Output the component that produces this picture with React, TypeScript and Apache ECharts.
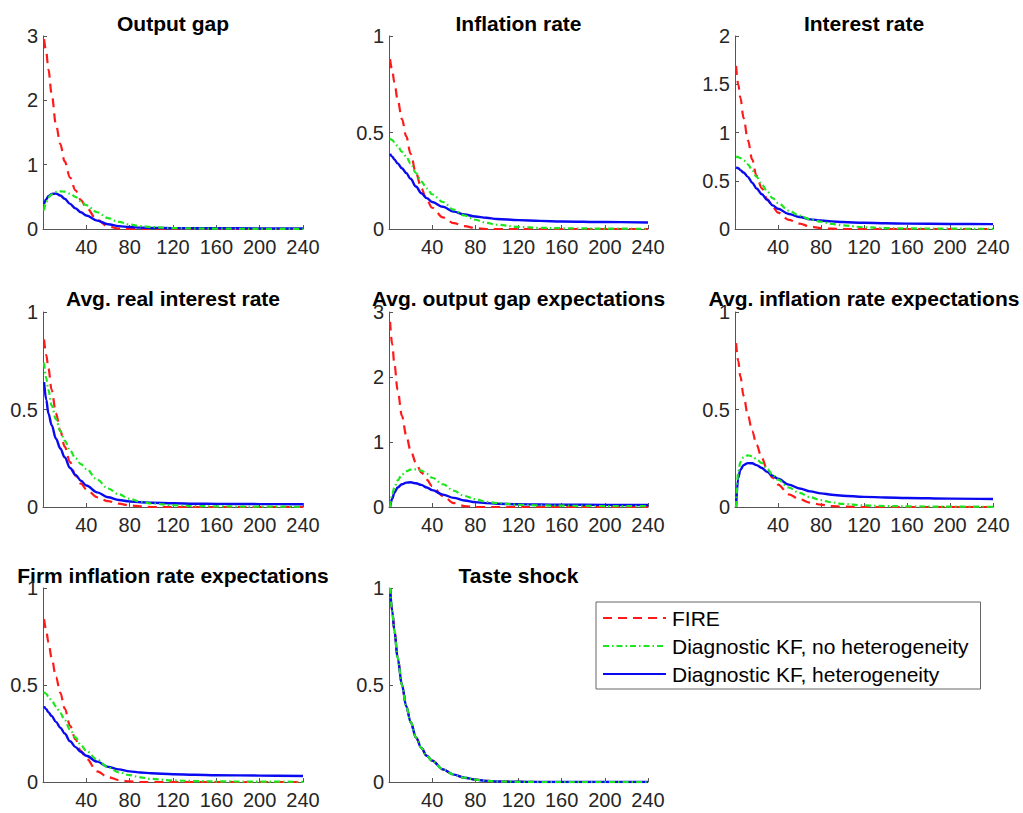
import React, { useEffect, useRef } from "react";
import * as echarts from "echarts";

const T = [1, 3, 5, 8, 12, 16, 20, 25, 30, 35, 40, 50, 60, 70, 80, 90, 100, 120, 140, 160, 200, 240];

const TITLES = [
  "Output gap",
  "Inflation rate",
  "Interest rate",
  "Avg. real interest rate",
  "Avg. output gap expectations",
  "Avg. inflation rate expectations",
  "Firm inflation rate expectations",
  "Taste shock",
];
const Y_MAX = [3, 1, 2, 1, 3, 1, 1, 1];
const Y_STEP = [1, 0.5, 0.5, 0.5, 1, 0.5, 0.5, 0.5];
const X_TICKS = [0, 40, 80, 120, 160, 200, 240];

const SERIES_NAMES = ["FIRE", "Diagnostic KF, no heterogeneity", "Diagnostic KF, heterogeneity"];

// FIRE
const fireOutputGap = [2.95, 2.75, 2.48, 2.1, 1.62, 1.32, 1.05, 0.8, 0.6, 0.45, 0.33, 0.14, 0.04, 0.005, 0, 0, 0, 0, 0, 0, 0, 0];
const fireInflation = [0.88, 0.82, 0.76, 0.67, 0.57, 0.48, 0.39, 0.29, 0.21, 0.15, 0.11, 0.06, 0.03, 0.015, 0.005, 0, 0, 0, 0, 0, 0, 0];
const fireInterest = [1.69, 1.5, 1.36, 1.15, 0.92, 0.72, 0.55, 0.42, 0.31, 0.23, 0.17, 0.095, 0.055, 0.025, 0.01, 0.003, 0, 0, 0, 0, 0, 0];
const fireRealRate = [0.86, 0.78, 0.71, 0.6, 0.48, 0.39, 0.31, 0.23, 0.16, 0.12, 0.09, 0.05, 0.03, 0.017, 0.008, 0.003, 0, 0, 0, 0, 0, 0];
const fireGapExp = [2.85, 2.5, 2.2, 1.8, 1.4, 1.1, 0.87, 0.68, 0.53, 0.42, 0.32, 0.17, 0.06, 0.015, 0, 0, 0, 0, 0, 0, 0, 0];
const fireInflExp = [0.84, 0.75, 0.67, 0.57, 0.47, 0.39, 0.32, 0.25, 0.19, 0.15, 0.115, 0.065, 0.04, 0.022, 0.012, 0.005, 0.002, 0, 0, 0, 0, 0];
const fireFirmExp = [0.84, 0.78, 0.72, 0.64, 0.54, 0.46, 0.38, 0.29, 0.22, 0.16, 0.12, 0.055, 0.025, 0.01, 0.003, 0, 0, 0, 0, 0, 0, 0];
const fireTaste = [1.0, 0.88, 0.78, 0.64, 0.5, 0.39, 0.31, 0.23, 0.175, 0.135, 0.11, 0.065, 0.038, 0.022, 0.012, 0.006, 0.003, 0.001, 0, 0, 0, 0];

// Diagnostic KF, no heterogeneity
const noHetOutputGap = [0.29, 0.42, 0.49, 0.54, 0.575, 0.585, 0.58, 0.55, 0.5, 0.43, 0.37, 0.26, 0.17, 0.11, 0.07, 0.045, 0.03, 0.015, 0.008, 0.005, 0.003, 0.002];
const noHetInflation = [0.47, 0.46, 0.45, 0.43, 0.4, 0.375, 0.34, 0.29, 0.245, 0.21, 0.18, 0.14, 0.1, 0.07, 0.048, 0.032, 0.022, 0.011, 0.006, 0.004, 0.002, 0.001];
const noHetInterest = [0.75, 0.745, 0.735, 0.71, 0.67, 0.61, 0.54, 0.46, 0.39, 0.32, 0.27, 0.19, 0.14, 0.1, 0.075, 0.053, 0.038, 0.018, 0.01, 0.006, 0.003, 0.002];
const noHetRealRate = [0.74, 0.66, 0.6, 0.52, 0.45, 0.39, 0.34, 0.29, 0.25, 0.22, 0.195, 0.14, 0.095, 0.065, 0.042, 0.027, 0.018, 0.009, 0.005, 0.003, 0.002, 0.001];
const noHetGapExp = [0.0, 0.2, 0.3, 0.41, 0.5, 0.55, 0.575, 0.58, 0.56, 0.51, 0.45, 0.35, 0.25, 0.17, 0.12, 0.08, 0.06, 0.035, 0.025, 0.02, 0.015, 0.012];
const noHetInflExp = [0.0, 0.18, 0.23, 0.255, 0.265, 0.26, 0.245, 0.225, 0.195, 0.165, 0.14, 0.1, 0.072, 0.05, 0.035, 0.024, 0.016, 0.008, 0.005, 0.003, 0.002, 0.001];
const noHetFirmExp = [0.465, 0.455, 0.44, 0.42, 0.39, 0.355, 0.32, 0.27, 0.23, 0.19, 0.16, 0.115, 0.075, 0.05, 0.035, 0.024, 0.016, 0.008, 0.005, 0.003, 0.002, 0.001];
const noHetTaste = [1.0, 0.88, 0.78, 0.64, 0.5, 0.39, 0.31, 0.23, 0.175, 0.135, 0.11, 0.065, 0.038, 0.022, 0.012, 0.006, 0.003, 0.001, 0, 0, 0, 0];

// Diagnostic KF, heterogeneity
const hetOutputGap = [0.39, 0.46, 0.51, 0.545, 0.55, 0.52, 0.47, 0.39, 0.32, 0.26, 0.21, 0.13, 0.075, 0.045, 0.03, 0.022, 0.018, 0.014, 0.012, 0.011, 0.01, 0.009];
const hetInflation = [0.39, 0.375, 0.36, 0.34, 0.315, 0.29, 0.26, 0.22, 0.185, 0.16, 0.14, 0.115, 0.09, 0.075, 0.065, 0.058, 0.052, 0.046, 0.042, 0.039, 0.036, 0.034];
const hetInterest = [0.64, 0.63, 0.61, 0.585, 0.54, 0.48, 0.42, 0.36, 0.3, 0.245, 0.21, 0.155, 0.125, 0.1, 0.088, 0.079, 0.072, 0.064, 0.059, 0.056, 0.052, 0.05];
const hetRealRate = [0.64, 0.55, 0.48, 0.42, 0.35, 0.3, 0.255, 0.2, 0.165, 0.135, 0.11, 0.075, 0.05, 0.036, 0.028, 0.024, 0.022, 0.019, 0.017, 0.016, 0.015, 0.014];
const hetGapExp = [0.0, 0.13, 0.22, 0.3, 0.35, 0.375, 0.38, 0.365, 0.34, 0.3, 0.26, 0.19, 0.14, 0.1, 0.075, 0.06, 0.05, 0.042, 0.038, 0.035, 0.032, 0.03];
const hetInflExp = [0.0, 0.15, 0.19, 0.215, 0.225, 0.224, 0.215, 0.2, 0.18, 0.16, 0.145, 0.115, 0.095, 0.08, 0.07, 0.063, 0.058, 0.052, 0.049, 0.046, 0.043, 0.041];
const hetFirmExp = [0.39, 0.375, 0.36, 0.34, 0.31, 0.28, 0.25, 0.21, 0.18, 0.155, 0.135, 0.105, 0.078, 0.065, 0.055, 0.049, 0.045, 0.04, 0.037, 0.035, 0.033, 0.031];
const hetTaste = [1.0, 0.88, 0.78, 0.64, 0.5, 0.39, 0.31, 0.23, 0.175, 0.135, 0.11, 0.065, 0.038, 0.022, 0.012, 0.006, 0.003, 0.001, 0, 0, 0, 0];

const FIRE = [fireOutputGap, fireInflation, fireInterest, fireRealRate, fireGapExp, fireInflExp, fireFirmExp, fireTaste];
const NO_HET = [noHetOutputGap, noHetInflation, noHetInterest, noHetRealRate, noHetGapExp, noHetInflExp, noHetFirmExp, noHetTaste];
const HET = [hetOutputGap, hetInflation, hetInterest, hetRealRate, hetGapExp, hetInflExp, hetFirmExp, hetTaste];

// Layout
const COL_LEFT = [43, 389, 735];
const COL_WIDTH = [260, 259, 258];
const ROW_TOP = [36, 312, 588];
const ROW_HEIGHT = [193, 195, 194];
const TITLE_Y = [23, 298, 575];

const FONT = "'Liberation Sans', Arial, Helvetica, sans-serif";
const AXIS_COLOR = "#555555";
const LABEL_COLOR = "#262626";

function pairs(vals: number[]) {
  return T.map((t, i) => [t, vals[i]]);
}

function buildOption() {
  const grid: any[] = [];
  const xAxis: any[] = [];
  const yAxis: any[] = [];
  const series: any[] = [];
  const graphic: any[] = [];

  TITLES.forEach((title, i) => {
    const row = Math.floor(i / 3);
    const col = i % 3;
    grid.push({
      left: COL_LEFT[col],
      top: ROW_TOP[row],
      width: COL_WIDTH[col],
      height: ROW_HEIGHT[row],
      containLabel: false,
    });
    xAxis.push({
      type: "value",
      gridIndex: i,
      min: X_TICKS[0],
      max: X_TICKS[X_TICKS.length - 1],
      interval: 40,
      splitLine: { show: false },
      axisLine: { show: true, lineStyle: { color: AXIS_COLOR, width: 1 } },
      axisTick: { show: true, inside: true, length: 4, lineStyle: { color: AXIS_COLOR } },
      axisLabel: {
        show: true,
        showMinLabel: false,
        color: LABEL_COLOR,
        fontSize: 20,
        fontFamily: FONT,
        margin: 8,
        formatter: (v: number) => (v === 0 ? "" : String(v)),
      },
    });
    yAxis.push({
      type: "value",
      gridIndex: i,
      min: 0,
      max: Y_MAX[i],
      interval: Y_STEP[i],
      splitLine: { show: false },
      axisLine: { show: true, onZero: false, lineStyle: { color: AXIS_COLOR, width: 1 } },
      axisTick: { show: true, inside: true, length: 4, lineStyle: { color: AXIS_COLOR } },
      axisLabel: {
        show: true,
        color: LABEL_COLOR,
        fontSize: 20,
        fontFamily: FONT,
        margin: 5,
      },
    });
    const common = {
      type: "line",
      xAxisIndex: i,
      yAxisIndex: i,
      showSymbol: false,
      symbol: "none",
      smooth: 0.35,
      smoothMonotone: "x",
      silent: true,
    };
    series.push({
      ...common,
      name: SERIES_NAMES[0],
      data: pairs(FIRE[i]),
      lineStyle: { color: "#ff1a1a", width: 2.2, type: [9, 6] },
      itemStyle: { color: "#ff1a1a" },
      z: 2,
    });
    series.push({
      ...common,
      name: SERIES_NAMES[2],
      data: pairs(HET[i]),
      lineStyle: { color: "#0a0af0", width: 2.4, type: "solid" },
      itemStyle: { color: "#0a0af0" },
      z: 3,
    });
    series.push({
      ...common,
      name: SERIES_NAMES[1],
      data: pairs(NO_HET[i]),
      lineStyle: { color: "#1ee61e", width: 2.2, type: [6, 3, 1.5, 3] },
      itemStyle: { color: "#1ee61e" },
      z: 4,
    });
    graphic.push({
      type: "text",
      x: COL_LEFT[col] + COL_WIDTH[col] / 2,
      y: TITLE_Y[row],
      style: {
        text: title,
        fill: "#000000",
        fontSize: 21,
        fontWeight: "bold",
        fontFamily: FONT,
        align: "center",
        verticalAlign: "middle",
        textAlign: "center",
        textVerticalAlign: "middle",
      },
    });
  });

  return {
    animation: false,
    backgroundColor: "#ffffff",
    grid,
    xAxis,
    yAxis,
    series,
    graphic,
    legend: {
      data: SERIES_NAMES,
      orient: "vertical",
      left: 596,
      top: 602,
      itemWidth: 63,
      itemHeight: 14,
      itemGap: 6,
      padding: [5, 12, 4, 6],
      borderColor: "#666666",
      borderWidth: 1,
      backgroundColor: "#ffffff",
      selectedMode: false,
      itemStyle: { color: "rgba(0,0,0,0)", borderColor: "rgba(0,0,0,0)", borderWidth: 0, opacity: 0 },
      textStyle: { fontSize: 21, fontFamily: FONT, color: "#000000", lineHeight: 22, padding: [0, 0, 0, 1] },
    },
  };
}

export default function App() {
  const ref = useRef<HTMLDivElement>(null);
  useEffect(() => {
    if (!ref.current) return;
    const chart = echarts.init(ref.current, undefined, { renderer: "svg" });
    chart.setOption(buildOption() as any);
    return () => chart.dispose();
  }, []);
  return (
    <div
      ref={ref}
      style={{ position: "fixed", left: 0, top: 0, width: 1023, height: 813, background: "#fff" }}
    />
  );
}
